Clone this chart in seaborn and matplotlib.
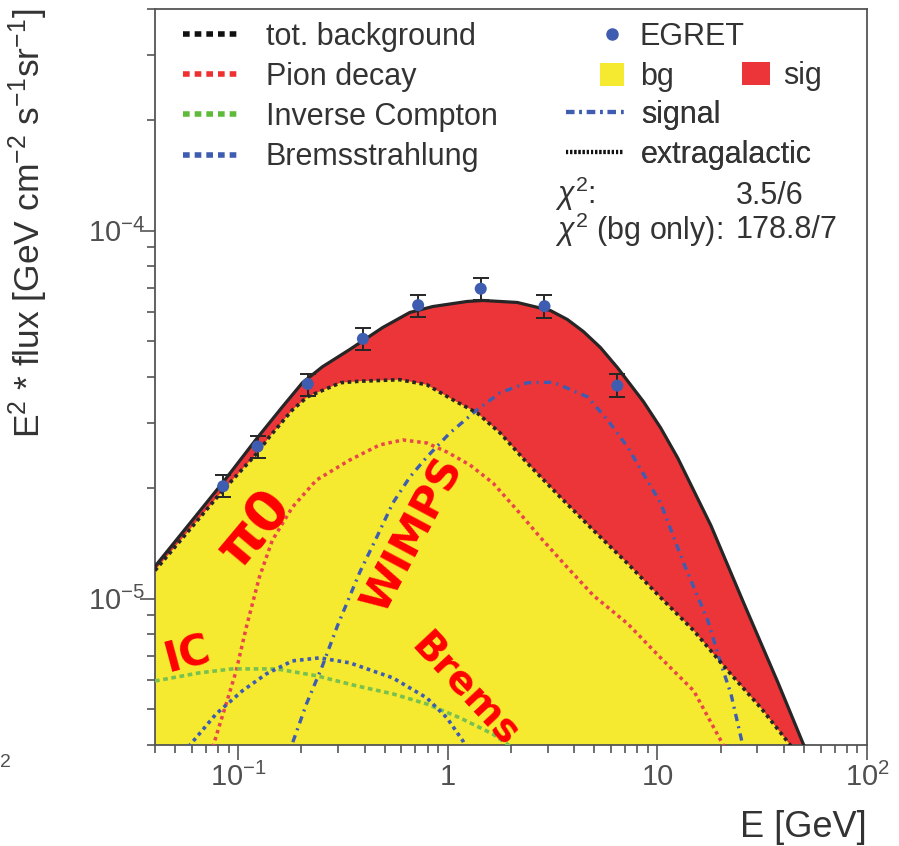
import numpy as np
import matplotlib
matplotlib.use("Agg")
import matplotlib.pyplot as plt
from matplotlib.lines import Line2D
from matplotlib.patches import Patch
from matplotlib.ticker import FixedLocator, FixedFormatter, LogLocator, NullFormatter
import seaborn as sns

# EGRET data points
egret_e = [0.0846, 0.1235, 0.2143, 0.393, 0.721, 1.434, 2.89, 6.43]
egret_f = [2.02e-5, 2.59e-5, 3.83e-5, 5.08e-5, 6.27e-5, 6.95e-5, 6.23e-5, 3.79e-5]
egret_lo = [1.886e-5, 2.413e-5, 3.556e-5, 4.75e-5, 5.83e-5, 6.46e-5, 5.77e-5, 3.52e-5]
egret_hi = [2.165e-5, 2.766e-5, 4.083e-5, 5.43e-5, 6.695e-5, 7.42e-5, 6.68e-5, 4.07e-5]

# total (bg + signal)
tot_e = [0.0400, 0.0846, 0.1230, 0.1622, 0.2021, 0.2520, 0.3394, 0.4884, 0.6577, 0.8474,
         1.233, 1.471, 2.141, 3.079, 3.715, 4.432, 5.346, 6.448, 8.588, 10.36, 12.50,
         17.98, 25.87, 37.64, 50.14, 57.24]
tot_f = [1.223e-5, 2.072e-5, 2.732e-5, 3.319e-5, 3.859e-5, 4.266e-5, 4.748e-5, 5.452e-5,
         5.990e-5, 6.217e-5, 6.416e-5, 6.457e-5, 6.377e-5, 6.066e-5, 5.733e-5, 5.315e-5,
         4.808e-5, 4.239e-5, 3.424e-5, 2.909e-5, 2.409e-5, 1.581e-5, 9.69e-6, 5.90e-6,
         3.972e-6, 3.29e-6]

# total background
bg_e = [0.0400, 0.0846, 0.1230, 0.1405, 0.1810, 0.2136, 0.3073, 0.3790, 0.5890, 0.7931,
        1.057, 1.377, 1.774, 2.390, 3.439, 4.948, 7.198, 10.36, 14.91, 21.69, 31.21,
        43.46, 51.27]
bg_f = [1.192e-5, 1.971e-5, 2.486e-5, 2.749e-5, 3.256e-5, 3.534e-5, 3.859e-5, 3.896e-5,
        3.933e-5, 3.811e-5, 3.467e-5, 3.196e-5, 2.819e-5, 2.335e-5, 1.886e-5, 1.533e-5,
        1.246e-5, 1.006e-5, 8.18e-6, 6.36e-6, 5.04e-6, 3.97e-6, 3.50e-6]

# WIMP signal
sig_e = [0.1713, 0.1790, 0.2112, 0.2520, 0.2972, 0.3790, 0.4571, 0.5452, 0.6577, 0.7931,
         1.022, 1.377, 1.774, 2.390, 3.184, 4.631, 5.772, 7.198, 10.36, 13.35, 17.40,
         20.08, 22.42, 25.59, 26.45]
sig_f = [3.61e-6, 3.97e-6, 5.17e-6, 6.57e-6, 8.44e-6, 1.177e-5, 1.467e-5, 1.816e-5,
         2.138e-5, 2.424e-5, 2.819e-5, 3.256e-5, 3.624e-5, 3.859e-5, 3.871e-5, 3.534e-5,
         3.06e-5, 2.582e-5, 1.816e-5, 1.246e-5, 8.71e-6, 6.65e-6, 5.51e-6, 3.97e-6, 3.50e-6]

# pion decay
pi_e = [0.07248, 0.0757, 0.0874, 0.0976, 0.1090, 0.1258, 0.1451, 0.1810, 0.2358, 0.3394,
        0.4724, 0.6088, 0.7931, 0.989, 1.275, 1.643, 2.141, 2.758, 3.715, 4.948, 7.198,
        10.36, 14.91, 20.75, 21.93]
pi_f = [3.61e-6, 3.97e-6, 5.17e-6, 6.36e-6, 8.34e-6, 1.141e-5, 1.439e-5, 1.771e-5,
        2.099e-5, 2.378e-5, 2.615e-5, 2.698e-5, 2.647e-5, 2.502e-5, 2.306e-5, 2.059e-5,
        1.738e-5, 1.467e-5, 1.215e-5, 1.019e-5, 8.55e-6, 6.90e-6, 5.61e-6, 3.97e-6, 3.61e-6]

# inverse Compton
ic_e = [0.0400, 0.0649, 0.0934, 0.1517, 0.2358, 0.3666, 0.5452, 0.7931, 1.142, 1.643,
        1.981, 2.164]
ic_f = [5.97e-6, 6.28e-6, 6.44e-6, 6.44e-6, 6.17e-6, 5.79e-6, 5.51e-6, 5.17e-6, 4.74e-6,
        4.28e-6, 3.97e-6, 3.73e-6]

# bremsstrahlung
br_e = [0.0550, 0.0581, 0.0783, 0.1043, 0.1358, 0.1810, 0.2438, 0.3394, 0.5452, 0.7931,
        0.989, 1.180, 1.247]
br_f = [3.61e-6, 3.97e-6, 4.86e-6, 5.61e-6, 6.24e-6, 6.77e-6, 6.90e-6, 6.69e-6, 6.09e-6,
        5.37e-6, 4.74e-6, 4.10e-6, 3.85e-6]

x_ticks = [0.1, 1, 10, 100]
x_labels = [r"$10^{-1}$", "1", "10", r"$10^{2}$"]
y_ticks = [1e-5, 1e-4]
y_labels = [r"$10^{-5}$", r"$10^{-4}$"]

YELLOW = "#F6EA30"
RED = "#EB3539"
BLUE = "#3F5DB0"
PION = "#E8454C"
GREEN = "#78C150"
DARK = "#262626"
GREY = "#555555"

sns.set_theme(style="ticks")
plt.rcParams["font.family"] = ["Liberation Sans", "DejaVu Sans"]
plt.rcParams["mathtext.fontset"] = "custom"
plt.rcParams["mathtext.rm"] = "Liberation Sans"
plt.rcParams["mathtext.it"] = "Liberation Sans:italic"
plt.rcParams["mathtext.bf"] = "Liberation Sans:bold"

fig = plt.figure(figsize=(8.99, 8.46), dpi=100)
ax = fig.add_axes([155 / 899, 1 - 745 / 846, 712 / 899, 736 / 846])
ax.set_xscale("log")
ax.set_yscale("log")
ax.set_xlim(0.04, 100)
ax.set_ylim(4e-6, 4e-4)

# filled areas: red = signal part, yellow = background part
ax.fill_between(tot_e, tot_f, 1e-7, color=RED, lw=0, zorder=1)
ax.fill_between(bg_e, bg_f, 1e-7, color=YELLOW, lw=0, zorder=2)

dot = (0, (1, 1.1))
sns.lineplot(x=pi_e, y=pi_f, ax=ax, color=PION, lw=2.5, linestyle=dot, sort=False, estimator=None, zorder=3)
sns.lineplot(x=ic_e, y=ic_f, ax=ax, color=GREEN, lw=2.6, linestyle=(0, (1.3, 1.0)), sort=False, estimator=None, zorder=3)
sns.lineplot(x=br_e, y=br_f, ax=ax, color=BLUE, lw=2.6, linestyle=dot, sort=False, estimator=None, zorder=3)
sns.lineplot(x=sig_e, y=sig_f, ax=ax, color=BLUE, lw=2.4, linestyle=(0, (2.2, 1.6, 0.6, 1.6)), sort=False, estimator=None, zorder=3)
sns.lineplot(x=bg_e, y=bg_f, ax=ax, color=DARK, lw=2.6, linestyle=(0, (1, 1)), sort=False, estimator=None, zorder=4)
sns.lineplot(x=tot_e, y=tot_f, ax=ax, color=DARK, lw=2.3, sort=False, estimator=None, zorder=4)

f = np.array(egret_f)
yerr = [f - np.array(egret_lo), np.array(egret_hi) - f]
ax.errorbar(egret_e, egret_f, yerr=yerr, fmt="none", ecolor=DARK, elinewidth=1.4,
            capsize=6, capthick=1.4, zorder=5)
sns.scatterplot(x=egret_e, y=egret_f, ax=ax, color=BLUE, s=75, edgecolor="none", zorder=6)

# axes styling
for sp in ax.spines.values():
    sp.set_color(GREY)
    sp.set_linewidth(1.3)
    sp.set_visible(True)
ax.xaxis.set_major_locator(FixedLocator(x_ticks))
ax.xaxis.set_major_formatter(FixedFormatter(x_labels))
ax.xaxis.set_minor_locator(LogLocator(base=10, subs=np.arange(2, 10)))
ax.xaxis.set_minor_formatter(NullFormatter())
ax.yaxis.set_major_locator(FixedLocator(y_ticks))
ax.yaxis.set_major_formatter(FixedFormatter(y_labels))
ax.yaxis.set_minor_locator(LogLocator(base=10, subs=np.arange(2, 10)))
ax.yaxis.set_minor_formatter(NullFormatter())
ax.tick_params(which="both", direction="out", color=GREY, width=1.2, top=False, right=False)
ax.tick_params(which="major", length=11)
ax.tick_params(which="minor", length=5.5)
ax.tick_params(axis="x", which="major", labelsize=21, labelcolor="#505050", pad=2)
ax.tick_params(axis="y", which="major", labelsize=21, labelcolor="#505050", pad=-4)

ax.set_xlabel("E [GeV]", fontsize=26, color="#333333", loc="right")
ax.xaxis.set_label_coords(1.0, -0.088)
ax.xaxis.label.set_va("top")
ax.set_ylabel(r"E$^{2}$ * flux [GeV cm$^{-2}$ s$^{-1}$sr$^{-1}$]", fontsize=25.5,
              color="#333333", loc="top")
ax.yaxis.set_label_coords(-0.147, 1.0)

# legends
fs = 22
tc = "#333333"
top0 = 22
row = 39
common = dict(frameon=False, fontsize=fs, borderpad=0, borderaxespad=0,
              labelspacing=0.33, bbox_transform=fig.transFigure, loc="upper left",
              labelcolor=tc)
hl = [Line2D([], [], color="#111111", lw=4, ls=(0, (1.2, 0.9))),
      Line2D([], [], color="#EE3030", lw=4, ls=(0, (1.2, 0.9))),
      Line2D([], [], color="#5EBB3A", lw=4, ls=(0, (1.2, 0.9))),
      Line2D([], [], color=BLUE, lw=4, ls=(0, (1.2, 0.9)))]
leg1 = ax.legend(hl, ["tot. background", "Pion decay", "Inverse Compton", "Bremsstrahlung"],
                 bbox_to_anchor=(183 / 899, 1 - top0 / 846), handlelength=1.9,
                 handletextpad=0.8, **common)
ax.add_artist(leg1)

hr1 = [Line2D([], [], color=BLUE, marker="o", ms=8, ls="none"),
       Patch(facecolor=YELLOW, edgecolor="none")]
leg2 = ax.legend(hr1, ["EGRET", "bg"], bbox_to_anchor=(600 / 899, 1 - top0 / 846),
                 handlelength=0.78, handleheight=0.75, handletextpad=0.52, **common)
ax.add_artist(leg2)

hs = [Patch(facecolor=RED, edgecolor="none")]
leg3 = ax.legend(hs, ["sig"], bbox_to_anchor=(742 / 899, 1 - (top0 + row) / 846),
                 handlelength=0.9, handleheight=0.75, handletextpad=0.45, **common)
ax.add_artist(leg3)

hr2 = [Line2D([], [], color=BLUE, lw=3, ls=(0, (2.0, 1.2, 0.6, 1.2))),
       Line2D([], [], color="#111111", lw=3, ls=(0, (0.5, 0.5)))]
leg4 = ax.legend(hr2, ["signal", "extragalactic"],
                 bbox_to_anchor=(566 / 899, 1 - (top0 + 2 * row) / 846),
                 handlelength=1.9, handletextpad=0.55, **common)
ax.add_artist(leg4)

fig.text(555 / 899, 1 - 194 / 846, r"$\chi^{2}$:", fontsize=fs, color=tc, va="center")
fig.text(736 / 899, 1 - 196 / 846, "3.5/6", fontsize=fs, color=tc, va="center")
fig.text(555 / 899, 1 - 230 / 846, r"$\chi^{2}$ (bg only):", fontsize=fs, color=tc, va="center")
fig.text(736 / 899, 1 - 230 / 846, "178.8/7", fontsize=fs, color=tc, va="center")

# hand-written labels
hand = dict(transform=ax.transAxes, color="#FF0000", fontweight="bold",
            family="DejaVu Sans", ha="center", va="center", zorder=7, clip_on=False)
ax.text(0.1404, 0.2948, "π0", fontsize=40, rotation=50, **hand)
ax.text(0.0449, 0.1223, "IC", fontsize=30, rotation=15, **hand)
ax.text(0.3624, 0.2853, "WIMPS", fontsize=31, rotation=62, **hand)
ax.text(0.4354, 0.0747, "Brems", fontsize=28, rotation=-47, **hand)

# fragment of a neighbouring panel's tick label
fig.text(0.0, 1 - 762 / 846, "2", fontsize=14, color="#505050", va="center", ha="left")

fig.savefig("out.png", dpi=100)
